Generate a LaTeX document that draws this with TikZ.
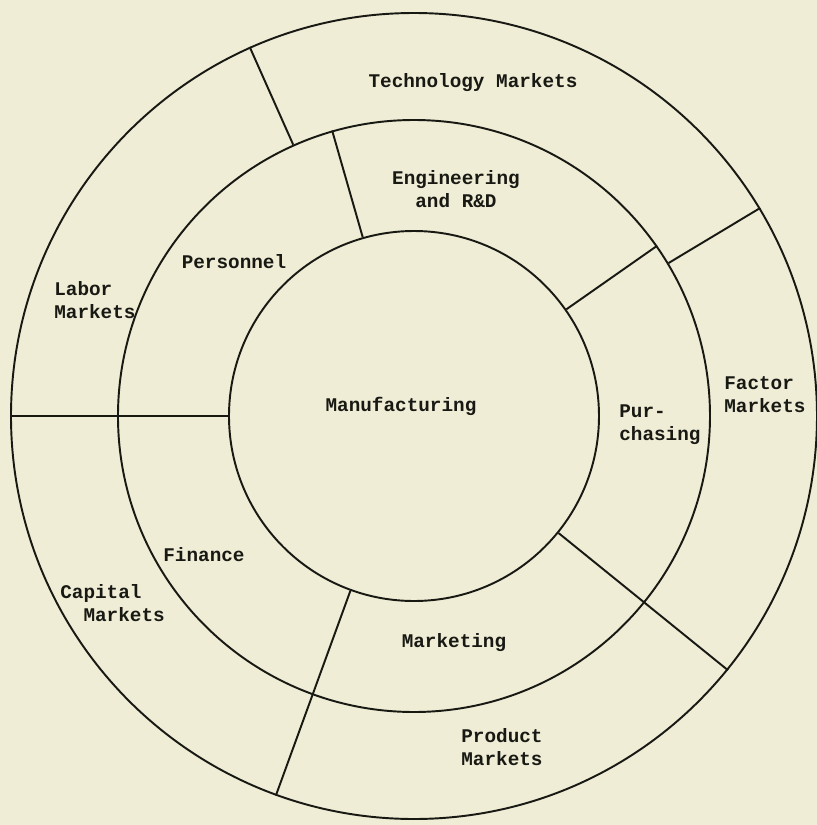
\documentclass[tikz,border=0pt]{standalone}
\usepackage{fontspec}
\newfontfamily\typefont{Liberation Mono}
\definecolor{paper}{RGB}{239,237,214}
\definecolor{ink}{RGB}{25,25,20}
\tikzset{
  ring/.style={circle, draw=ink, line width=1.1pt, inner sep=0pt},
  divider/.style={draw=ink, line width=1.1pt},
  lbl/.style={font=\typefont\bfseries\fontsize{11}{13}\selectfont, text=ink, inner sep=0pt}
}

\begin{document}
\begin{tikzpicture}

  % Paper and bounding box
  \fill[paper] (-8.28,-8.18) rectangle (8.06,8.32);
  \useasboundingbox (-8.28,-8.18) rectangle (8.06,8.32);

  % The three rings
  \node[ring, minimum size=16.12cm] (outer) at (0,0) {};
  \node[ring, minimum size=11.84cm] (mid) at (0,0) {};
  \node[ring, minimum size=7.4cm] (inner) at (0,0) {};

  % Dividers between the sectors
  \draw[divider] (outer.180) -- (inner.180);
  \draw[divider] (outer.114.5) -- (mid.114.5);
  \draw[divider] (mid.106) -- (inner.106);
  \draw[divider] (outer.31.5) -- (mid.31.5);
  \draw[divider] (mid.35.4) -- (inner.35.4);
  \draw[divider] (outer.321.6) -- (inner.321.6);
  \draw[divider] (outer.250.5) -- (inner.250.5);

  % Centre
  \node[lbl] (manu) at (-0.26, 0.2) {Manufacturing};

  % Middle ring: functions
  \node[lbl, align=center] (eng) at (0.84, 4.54) {Engineering\\and R\&D};
  \node[lbl] (pers) at (-3.6, 3.08) {Personnel};
  \node[lbl, align=left, anchor=west] (purch) at (4.1, -0.18) {Pur-\\chasing};
  \node[lbl] (fin) at (-4.2, -2.78) {Finance};
  \node[lbl] (mkt) at (0.8, -4.54) {Marketing};

  % Outer ring: markets
  \node[lbl] (tech) at (1.18, 6.66) {Technology Markets};
  \node[lbl, align=left, anchor=west] (labor) at (-7.2, 2.32) {Labor\\Markets};
  \node[lbl, align=left, anchor=west] (factor) at (6.2, 0.42) {Factor\\Markets};
  \node[lbl, align=left, anchor=west] (capital) at (-7.08, -3.74) {Capital\\\phantom{Ca}Markets};
  \node[lbl, align=center] (product) at (1.76, -6.62) {Product\\Markets};

\end{tikzpicture}
\end{document}
